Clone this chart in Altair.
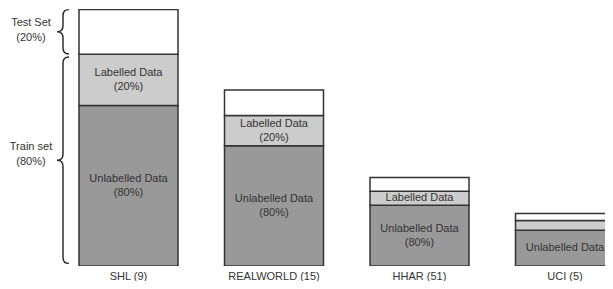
import altair as alt
import pandas as pd

# ---- data ----
datasets = ["SHL (9)", "REALWORLD (15)", "HHAR (51)", "UCI (5)"]
segments = ["Unlabelled", "Labelled", "Test"]
unlabelled = [165.0, 123.4, 62.4, 36.7]
labelled = [52.4, 31.3, 14.3, 10.0]
test = [46.0, 26.0, 14.3, 7.3]
unl_labels = ["Unlabelled Data\n(80%)", "Unlabelled Data\n(80%)", "Unlabelled Data\n(80%)", "Unlabelled Data"]
lab_labels = ["Labelled Data\n(20%)", "Labelled Data\n(20%)", "Labelled Data", ""]
test_labels = ["", "", "", ""]

brace_names = ["Test Set\n(20%)", "Train set\n(80%)"]
brace_lo = [217.7, 2.7]
brace_hi = [263.4, 214.7]
brace_text_y = [241.9, 114.3]

# ---- layout (kept inside the 597x273 area so the page never overflows) ----
Y_MAX = 264.0
PLOT_H = 257
PLOT_W = 597
K = PLOT_H / Y_MAX  # px per unit
LINE_H = 14

rows = []
for i, d in enumerate(datasets):
    base = 0.0
    for seg, vals, labs in zip(segments, [unlabelled, labelled, test], [unl_labels, lab_labels, test_labels]):
        v = vals[i]
        rows.append({"dataset": d, "segment": seg, "y0": base, "y1": base + v,
                     "ymid": base + v / 2, "label": labs[i],
                     "nlines": labs[i].count("\n") + 1})
        base += v
df = pd.DataFrame(rows)


def brace_path(h, w=6.0, c=6.0):
    s = h / 2.0
    pts = [
        f"M {w/s:.4f} {-1:.4f}",
        f"Q 0 -1 0 {(-h/2 + c)/s:.4f}",
        f"L 0 {-c/s:.4f}",
        f"Q 0 0 {-w/s:.4f} 0",
        f"Q 0 0 0 {c/s:.4f}",
        f"L 0 {(h/2 - c)/s:.4f}",
        f"Q 0 1 {w/s:.4f} 1",
    ]
    return " ".join(pts)


brace_layers = []
for lo, hi in zip(brace_lo, brace_hi):
    h = (hi - lo) * K
    bdf = pd.DataFrame({"ymid": [(lo + hi) / 2]})
    brace_layers.append(
        alt.Chart(bdf).mark_point(shape=brace_path(h), size=h * h, filled=False,
                                  stroke="#222222", strokeWidth=1.4, opacity=1)
        .encode(x=alt.value(55), y=alt.Y("ymid:Q"))
    )

ldf = pd.DataFrame({"name": brace_names, "ty": brace_text_y})
brace_text = alt.Chart(ldf).mark_text(
    font="Liberation Sans", fontSize=11, color="#333333", lineBreak="\n",
    baseline="middle", align="center", lineHeight=15, dy=-7.5
).encode(x=alt.value(23), y=alt.Y("ty:Q"), text="name:N")

STEP = 145.5
BAR_W = 99
X0 = 71
xscale = alt.Scale(range=[X0, X0 + STEP * (4 - (1 - BAR_W / STEP))],
                   paddingInner=1 - BAR_W / STEP, paddingOuter=0)
yscale = alt.Scale(domain=[0, Y_MAX], nice=False, zero=True)

bars = alt.Chart(df).mark_bar(stroke="#333333", strokeWidth=1.5, clip=True).encode(
    x=alt.X("dataset:N", sort=datasets, scale=xscale,
            axis=alt.Axis(title=None, domain=False, ticks=False, tickSize=0, labelPadding=4,
                          labelFont="Liberation Sans", labelFontSize=11, labelColor="#333333",
                          labelAngle=0)),
    y=alt.Y("y0:Q", scale=yscale, axis=None),
    y2="y1:Q",
    color=alt.Color("segment:N", scale=alt.Scale(domain=segments, range=["#999999", "#cccccc", "#ffffff"]),
                    legend=None),
)


def text_layer(n, dy):
    return alt.Chart(df).transform_filter(alt.datum.nlines == n).mark_text(
        font="Liberation Sans", fontSize=11, color="#333333", lineBreak="\n",
        baseline="middle", align="center", lineHeight=LINE_H, dy=dy
    ).encode(
        x=alt.X("dataset:N", sort=datasets, scale=xscale),
        y=alt.Y("ymid:Q", scale=yscale),
        text="label:N",
    )


texts1 = text_layer(1, 0)
texts2 = text_layer(2, -LINE_H / 2)

chart = alt.layer(bars, texts1, texts2, *brace_layers, brace_text).properties(
    width=PLOT_W, height=PLOT_H,
    autosize=alt.AutoSizeParams(type="none"),
    padding={"left": 0, "top": 1, "right": 0, "bottom": 15},
).configure_view(stroke=None)

chart.save("out.html", embed_options={"renderer": "svg", "actions": False})
